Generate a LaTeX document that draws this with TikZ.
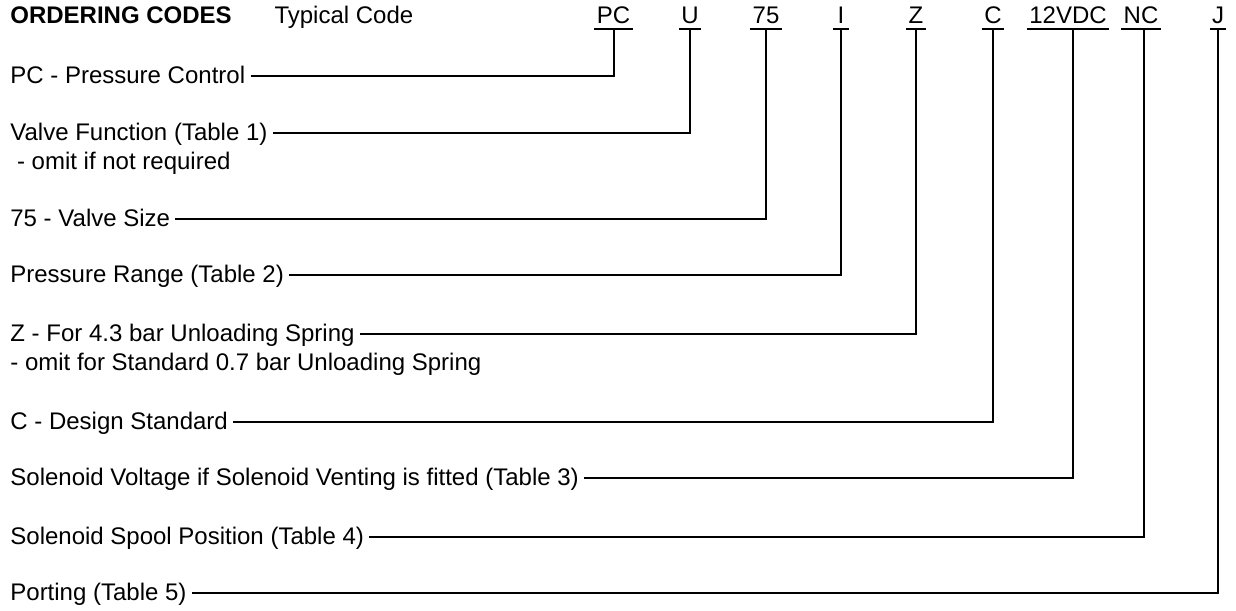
\documentclass[tikz,border=0pt]{standalone}
\usepackage{fontspec}
\setmainfont{Liberation Sans}
\usetikzlibrary{positioning}

\begin{document}
\begin{tikzpicture}
  [x = 0.5pt,
    y = -0.5pt,
    every node/.style={font=\fontsize{12}{14.5}\selectfont},
    Label/.style={anchor=west, inner xsep=2.5pt, inner ysep=0pt, text height=9.5pt, text depth=2pt},
    Code/.style={anchor=base, inner xsep=1pt, inner ysep=2.5pt, text depth=0pt, minimum width=7.5pt},
    Lead/.style={line width=1pt}]
    \useasboundingbox (0,0) rectangle (1236,610);
    \node [anchor=base west, inner sep=0pt, font=\fontsize{12}{14.5}\selectfont\bfseries] (title) at (10,24) {ORDERING CODES};
    \node [base right=21pt of title, inner sep=0pt] (typical) {Typical Code};
    % the code letters, underlined
    \foreach \n/\x/\t in {PC/613.5/PC, U/690/U, 75/766/75, I/841/I, Z/916/Z, C/993/C, VDC/1068/12VDC, NC/1141/NC, J/1218/J}
      \node [Code] (c\n) at (\x,24) {\t};
    \foreach \n in {PC,U,75,I,Z,C,VDC,NC,J}
      \draw [Lead] (c\n.south west) -- (c\n.south east);
    % the labels down the left side
    \node [Label] (lPC) at (5,76) {PC - Pressure Control};
    \node [Label] (lU) at (5,133) {Valve Function (Table 1)};
    \node [Label] (lUnote) at ([yshift=-14.5pt]lU.west) {\ - omit if not required};
    \node [Label] (l75) at (5,219) {75 - Valve Size};
    \node [Label] (lI) at (5,275) {Pressure Range (Table 2)};
    \node [Label] (lZ) at (5,334) {Z - For 4.3 bar Unloading Spring};
    \node [Label] (lZnote) at ([yshift=-14.5pt]lZ.west) {- omit for Standard 0.7 bar Unloading Spring};
    \node [Label] (lC) at (5,422) {C - Design Standard};
    \node [Label] (lVDC) at (5,478) {Solenoid Voltage if Solenoid Venting is fitted (Table 3)};
    \node [Label] (lNC) at (5,537) {Solenoid Spool Position (Table 4)};
    \node [Label] (lJ) at (5,593) {Porting (Table 5)};
    % leader lines
    \draw [Lead] (lPC.east) -| (cPC.south);
    \draw [Lead] (lU.east) -| (cU.south);
    \draw [Lead] (l75.east) -| (c75.south);
    \draw [Lead] (lI.east) -| (cI.south);
    \draw [Lead] (lZ.east) -| (cZ.south);
    \draw [Lead] (lC.east) -| (cC.south);
    \draw [Lead] (lVDC.east) -| ([xshift=2.5pt]cVDC.south);
    \draw [Lead] (lNC.east) -| ([xshift=1.5pt]cNC.south);
    \draw [Lead] (lJ.east) -| (cJ.south);
\end{tikzpicture}
\end{document}
